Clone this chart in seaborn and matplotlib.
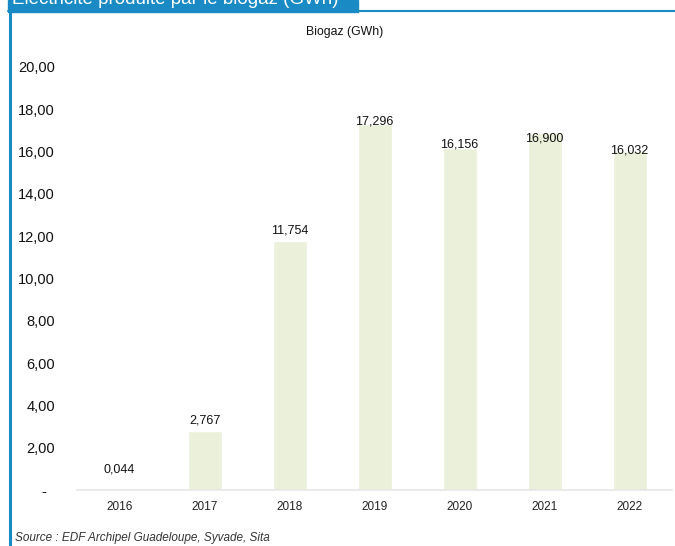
import matplotlib
matplotlib.use("Agg")
import matplotlib.pyplot as plt
import seaborn as sns
import pandas as pd
from matplotlib.patches import Rectangle

# Data
years = ["2016", "2017", "2018", "2019", "2020", "2021", "2022"]
biogaz_gwh = [0.044, 2.767, 11.754, 17.296, 16.156, 16.900, 16.032]
value_labels = ["0,044", "2,767", "11,754", "17,296", "16,156", "16,900", "16,032"]
ytick_values = [0, 2, 4, 6, 8, 10, 12, 14, 16, 18, 20]
ytick_labels = ["-  "] + [f"{v},00" for v in ytick_values[1:]]

# label offsets (points) -- the source chart places them a bit unevenly
label_dy = [14, 8, 8, 2, 3, -4, 0]

df = pd.DataFrame({"year": years, "gwh": biogaz_gwh})

sns.set_theme(style="white")
plt.rcParams["font.family"] = ["Liberation Sans", "DejaVu Sans"]

blue = "#1a8ac4"
bar_color = "#ebf0da"

fig = plt.figure(figsize=(6.75, 5.46), dpi=100)
ax = fig.add_axes([77 / 675, 1 - 490 / 546, 595 / 675, 423 / 546])

sns.barplot(data=df, x="year", y="gwh", color=bar_color, width=0.4,
            saturation=1, ax=ax)

ax.set_xlim(-0.5, 6.5)
ax.set_ylim(0, 20)
ax.set_yticks(ytick_values)
ax.set_yticklabels(ytick_labels, fontsize=10.5, color="#111111")
ax.tick_params(axis="y", length=0, pad=16)
ax.tick_params(axis="x", length=0, pad=8, labelsize=8.5, labelcolor="#222222")
ax.set_xlabel("")
ax.set_ylabel("")

for s in ["top", "right", "left"]:
    ax.spines[s].set_visible(False)
ax.spines["bottom"].set_color("#e6e6e6")
ax.spines["bottom"].set_linewidth(1.2)

for i, (v, lab) in enumerate(zip(biogaz_gwh, value_labels)):
    ax.annotate(lab, (i, v), xytext=(0, label_dy[i]), textcoords="offset points",
                ha="center", va="center", fontsize=9, color="#111111")

fig.text(345 / 675, 1 - 32 / 546, "Biogaz (GWh)", ha="center", va="center",
         fontsize=8.8, color="#111111")

fig.text(15 / 675, 1 - 538 / 546, "Source : EDF Archipel Guadeloupe, Syvade, Sita",
         ha="left", va="center", fontsize=8.5, style="italic", color="#333333")

# blue frame and banner from the page layout (banner title is cut off at the top)
banner = Rectangle((8 / 675, 1 - 12 / 546), 350 / 675, 12 / 546,
                   transform=fig.transFigure, color=blue, zorder=0)
fig.patches.append(banner)
fig.add_artist(plt.Line2D([9.5 / 675, 9.5 / 675], [0, 1 - 11 / 546],
                          transform=fig.transFigure, color=blue, lw=2.2))
fig.add_artist(plt.Line2D([8 / 675, 1], [1 - 11 / 546, 1 - 11 / 546],
                          transform=fig.transFigure, color=blue, lw=1.5))
t = fig.text(12 / 675, 1 - 4 / 546, "Électricité produite par le biogaz (GWh)",
             ha="left", va="baseline", fontsize=13.5, color="white")
t.set_clip_path(banner)

fig.savefig("out.png", dpi=100)
